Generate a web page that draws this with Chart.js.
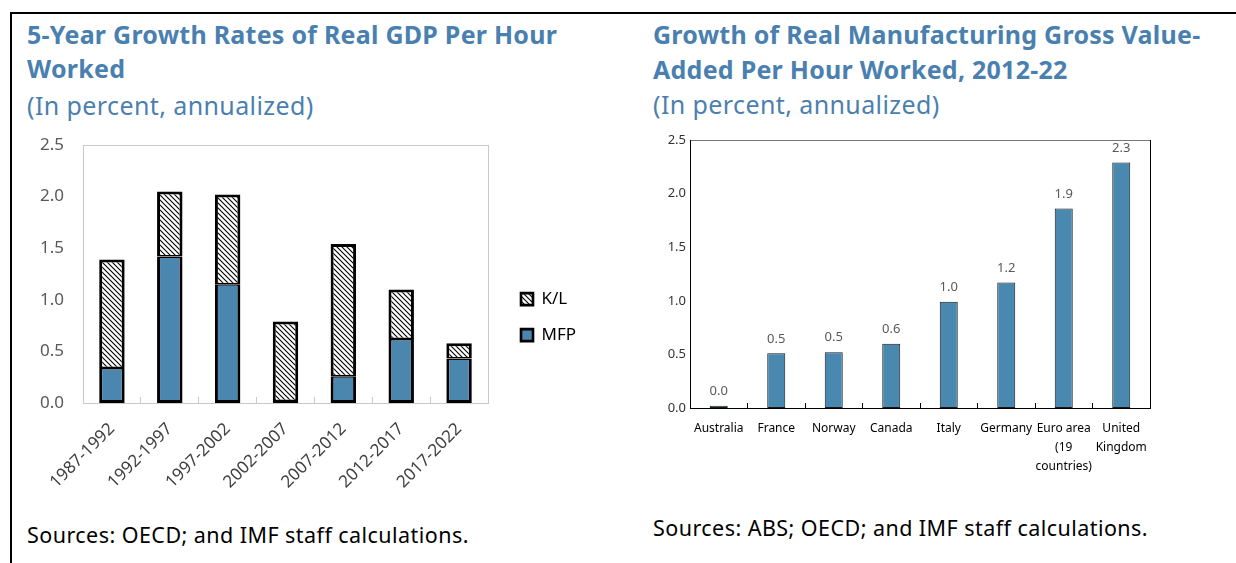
<!DOCTYPE html>
<html><head><meta charset="utf-8">
<script src="https://cdn.jsdelivr.net/npm/chart.js@4.4.1/dist/chart.umd.min.js"></script>
<style>
html,body{margin:0;padding:0;background:#fff;width:1236px;height:563px;overflow:hidden;font-family:'Noto Sans',sans-serif;}
#frame{position:absolute;left:10px;top:12px;width:1400px;height:700px;border-left:2px solid #000;border-top:2px solid #000;}
.t{position:absolute;white-space:nowrap;color:#4a80b0;line-height:32px;font-size:25px;}
.b{font-weight:bold;letter-spacing:0.25px;}
.s{letter-spacing:0.4px;}
.src{position:absolute;white-space:nowrap;color:#000;font-size:21.5px;letter-spacing:0.45px;line-height:30px;}
canvas{position:absolute;}
</style></head>
<body>
<div id="frame"></div>
<div class="t b" style="left:27px;top:18px;">5-Year Growth Rates of Real GDP Per Hour</div>
<div class="t b" style="left:27px;top:52px;">Worked</div>
<div class="t s" style="left:27px;top:89px;">(In percent, annualized)</div>
<div class="t b" style="left:653px;top:18px;">Growth of Real Manufacturing Gross Value-</div>
<div class="t b" style="left:653px;top:53px;">Added Per Hour Worked, 2012-22</div>
<div class="t s" style="left:653px;top:88px;">(In percent, annualized)</div>
<div class="src" style="left:27px;top:520px;">Sources: OECD; and IMF staff calculations.</div>
<div class="src" style="left:653px;top:513px;">Sources: ABS; OECD; and IMF staff calculations.</div>
<canvas id="left" width="600" height="380" style="left:20px;top:130px;width:600px;height:380px;"></canvas>
<canvas id="right" width="596" height="370" style="left:640px;top:130px;width:596px;height:370px;"></canvas>
<script>
// ---- data ----
const periods = ['1987-1992','1992-1997','1997-2002','2002-2007','2007-2012','2012-2017','2017-2022'];
const mfpValues = [0.34, 1.42, 1.15, 0.02, 0.26, 0.62, 0.43];
const klValues  = [1.05, 0.63, 0.87, 0.77, 1.28, 0.48, 0.15];
const leftSeriesNames = ['MFP', 'K/L'];
const countries = ['Australia','France','Norway','Canada','Italy','Germany',['Euro area','(19','countries)'],['United','Kingdom']];
const mfgValues = [0.02, 0.51, 0.52, 0.60, 0.99, 1.17, 1.86, 2.29];
const yTickValues = [0, 0.5, 1.0, 1.5, 2.0, 2.5];

Chart.defaults.font.family = "'Noto Sans', sans-serif";

function hatch(){
  const c = document.createElement('canvas'); c.width = 5; c.height = 5;
  const x = c.getContext('2d');
  x.fillStyle = '#fff'; x.fillRect(0,0,5,5);
  x.strokeStyle = '#000'; x.lineWidth = 1.1;
  x.beginPath();
  x.moveTo(-1,-1); x.lineTo(6,6);
  x.moveTo(-1,4); x.lineTo(1,6);
  x.moveTo(4,-1); x.lineTo(6,1);
  x.stroke();
  return x.createPattern(c,'repeat');
}
const yMin = yTickValues[0], yMax = yTickValues[yTickValues.length-1];
const yStep = yTickValues[1]-yTickValues[0];
const fmt = v => Number(v).toFixed(1);

// ---- left chart ----
new Chart(document.getElementById('left'), {
  type: 'bar',
  data: {
    labels: periods,
    datasets: [
      {label: leftSeriesNames[0], data: mfpValues, xAxisID:'x', yAxisID:'y', backgroundColor:'#4a86ae', borderColor:'#000',
        borderWidth:{top:1.5, left:3, right:3, bottom:3}, borderSkipped:false, barPercentage:0.44, categoryPercentage:1},
      {label: leftSeriesNames[1], data: klValues, xAxisID:'x', yAxisID:'y', backgroundColor:hatch(), borderColor:'#000',
        borderWidth:{top:3, left:3, right:3, bottom:1.5}, borderSkipped:false, barPercentage:0.44, categoryPercentage:1}
    ]
  },
  options: {
    responsive:false, animation:false, devicePixelRatio:1,
    layout:{padding:{top:15, right:38, left:0, bottom:0}},
    plugins:{
      tooltip:{enabled:false},
      legend:{
        position:'right', fullSize:false, align:'center', reverse:true, maxWidth:80,
        title:{display:true, text:' ', font:{size:1}, padding:{top:0, bottom:85}},
        labels:{boxWidth:12, boxHeight:12, padding:19, color:'#000', font:{size:17}}
      }
    },
    scales:{
      x:{stacked:true, offset:true,
        grid:{display:true, drawOnChartArea:false, drawTicks:true, tickLength:-6, color:'#c9c9c9', offset:true},
        border:{display:true, color:'#c9c9c9'},
        ticks:{autoSkip:false, maxRotation:45, minRotation:45, font:{size:17}, color:'#404040', padding:22},
        afterFit(s){ s.height = 107; }
      },
      xTop:{type:'category', position:'top', labels:periods, offset:true,
        grid:{display:false, drawTicks:false}, border:{display:true, color:'#c9c9c9'},
        ticks:{display:false}, afterFit(s){ s.height = 0; }
      },
      y:{stacked:true, min:yMin, max:yMax,
        ticks:{stepSize:yStep, callback:fmt, font:{size:17}, color:'#595959', padding:0},
        grid:{display:false, drawTicks:true, tickLength:19}, border:{display:true, color:'#c9c9c9'},
        afterFit(s){ s.width = 63; }
      },
      yRight:{position:'right', min:yMin, max:yMax,
        ticks:{display:false}, grid:{display:false, drawTicks:false}, border:{display:true, color:'#c9c9c9'},
        afterFit(s){ s.width = 14; }
      }
    }
  }
});

// ---- right chart ----
const valueLabels = {
  id:'valueLabels',
  afterDatasetsDraw(chart){
    const ctx = chart.ctx, meta = chart.getDatasetMeta(0), ds = chart.data.datasets[0];
    ctx.save();
    ctx.font = "13px 'Noto Sans', sans-serif";
    ctx.fillStyle = '#595959'; ctx.textAlign = 'center'; ctx.textBaseline = 'bottom';
    meta.data.forEach((el,i) => ctx.fillText(fmt(ds.data[i]), el.x, el.y - 8));
    ctx.restore();
  }
};
new Chart(document.getElementById('right'), {
  type:'bar',
  data:{labels:countries, datasets:[{label:'Growth', data:mfgValues, xAxisID:'x', yAxisID:'y', backgroundColor:'#4a89af', borderColor:'#1a1a1a', borderWidth:1, borderSkipped:false, barPercentage:0.313, categoryPercentage:1}]},
  options:{
    responsive:false, animation:false, devicePixelRatio:1,
    layout:{padding:{top:10, right:86, left:0, bottom:0}},
    plugins:{legend:{display:false}, tooltip:{enabled:false}},
    scales:{
      x:{offset:true,
        grid:{display:true, drawOnChartArea:false, drawTicks:true, tickLength:-5, color:'#000', offset:true},
        border:{display:true, color:'#000'},
        ticks:{autoSkip:false, maxRotation:0, minRotation:0, font:{size:12, lineHeight:1.6}, color:'#000', padding:16},
        afterFit(s){ s.height = 92; }
      },
      xTop:{type:'category', position:'top', labels:countries, offset:true,
        grid:{display:false, drawTicks:false}, border:{display:true, color:'#777'},
        ticks:{display:false}, afterFit(s){ s.height = 0; }
      },
      y:{min:yMin, max:yMax,
        ticks:{stepSize:yStep, callback:fmt, font:{size:13}, color:'#333', padding:0},
        grid:{display:false, drawTicks:true, tickLength:4}, border:{display:true, color:'#000'},
        afterFit(s){ s.width = 50; }
      },
      yRight:{position:'right', min:yMin, max:yMax,
        ticks:{display:false}, grid:{display:false, drawTicks:false}, border:{display:true, color:'#000'},
        afterFit(s){ s.width = 0; }
      }
    }
  },
  plugins:[valueLabels]
});
</script>
</body></html>
